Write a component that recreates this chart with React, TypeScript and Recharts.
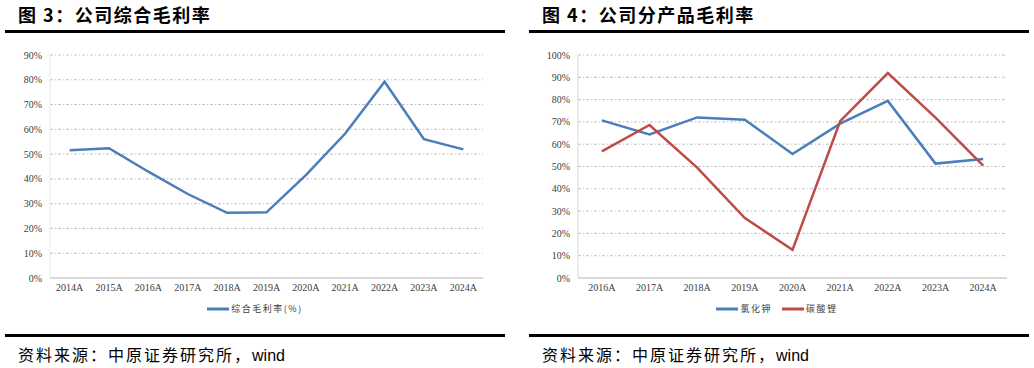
import React from "react";
import { LineChart, Line, XAxis, YAxis, CartesianGrid, Legend } from "recharts";

const leftYears = ["2014A", "2015A", "2016A", "2017A", "2018A", "2019A", "2020A", "2021A", "2022A", "2023A", "2024A"];
const leftMargin = [51.6, 52.4, 42.9, 33.9, 26.3, 26.5, 41.5, 58.3, 79.2, 56.0, 51.9];
const leftTicks = [0, 10, 20, 30, 40, 50, 60, 70, 80, 90];

const rightYears = ["2016A", "2017A", "2018A", "2019A", "2020A", "2021A", "2022A", "2023A", "2024A"];
const kclMargin = [70.7, 64.4, 72.0, 71.0, 55.6, 69.2, 79.4, 51.3, 53.4];
const li2co3Margin = [56.8, 68.6, 49.5, 26.9, 12.6, 70.3, 91.9, 71.9, 50.4];
const rightTicks = [0, 10, 20, 30, 40, 50, 60, 70, 80, 90, 100];

const leftData = leftYears.map((year, i) => ({ year, total: leftMargin[i] }));
const rightData = rightYears.map((year, i) => ({ year, kcl: kclMargin[i], li: li2co3Margin[i] }));

const BLUE = "#4A7EBB";
const RED = "#BE4B48";
const SERIF = "'Times New Roman', 'Liberation Serif', serif";
const CJK = "'Noto Sans CJK SC', sans-serif";

const tickStyle = { fontFamily: SERIF, fontSize: 10, fill: "#404040" };

const renderLegend = (props: any) => {
  const { payload } = props;
  return (
    <div style={{ display: "flex", justifyContent: "center", alignItems: "center", gap: 10 }}>
      {(payload || []).map((p: any) => (
        <div key={p.value} style={{ display: "flex", alignItems: "center" }}>
          <svg width={22} height={6} style={{ display: "block" }}>
            <line x1={0} y1={3} x2={22} y2={3} stroke={p.color} strokeWidth={3} />
          </svg>
          <span style={{ fontFamily: CJK, fontSize: 9, color: "#404040", letterSpacing: 1.5, marginLeft: 2, lineHeight: "12px" }}>
            {p.value}
          </span>
        </div>
      ))}
    </div>
  );
};

const pct = (v: number) => `${v}%`;

const Title = ({ left, text }: { left: number; text: string }) => (
  <div
    style={{
      position: "absolute",
      left,
      top: 3,
      fontFamily: CJK,
      fontWeight: 700,
      fontSize: 18,
      lineHeight: "22px",
      letterSpacing: 1.5,
      color: "#000",
      whiteSpace: "nowrap",
    }}
  >
    {text}
  </div>
);

const Rule = ({ left, top }: { left: number; top: number }) => (
  <div style={{ position: "absolute", left, top, width: 500, height: 3, background: "#000" }} />
);

const Source = ({ left }: { left: number }) => (
  <div style={{ position: "absolute", left, top: 343, whiteSpace: "nowrap", lineHeight: "22px", color: "#000" }}>
    <span style={{ fontFamily: CJK, fontSize: 16, letterSpacing: 2 }}>资料来源：中原证券研究所，</span>
    <span style={{ fontFamily: "'Liberation Sans', Arial, sans-serif", fontSize: 16 }}>wind</span>
  </div>
);

export default function App() {
  return (
    <div style={{ position: "absolute", left: 0, top: 0, width: 1034, height: 368, background: "#fff", overflow: "hidden" }}>
      <Title left={18} text="图 3：公司综合毛利率" />
      <Title left={542} text="图 4：公司分产品毛利率" />
      <Rule left={5} top={30} />
      <Rule left={529} top={30} />
      <Rule left={5} top={334} />
      <Rule left={529} top={334} />
      <Source left={18} />
      <Source left={542} />

      <div style={{ position: "absolute", left: 0, top: 40 }}>
        <LineChart width={510} height={280} data={leftData} margin={{ top: 15, right: 27, left: 0, bottom: 20 }}>
          <CartesianGrid vertical={false} stroke="#BFBFBF" strokeDasharray="3 2 1 2" />
          <XAxis
            dataKey="year"
            scale="band"
            interval={0}
            height={22}
            tickLine={false}
            tickSize={4}
            tickMargin={2}
            axisLine={{ stroke: "#D9D9D9", strokeWidth: 2 }}
            tick={tickStyle}
          />
          <YAxis
            width={50}
            domain={[0, 90]}
            ticks={leftTicks}
            interval={0}
            tickFormatter={pct}
            tickLine={false}
            axisLine={{ stroke: "#E6E6E6" }}
            tick={tickStyle}
          />
          <Legend
            verticalAlign="middle"
            align="center"
            layout="horizontal"
            content={renderLegend}
            wrapperStyle={{ top: 263, left: 0, width: 510 }}
          />
          <Line
            type="linear"
            dataKey="total"
            name="综合毛利率(%)"
            stroke={BLUE}
            strokeWidth={2.5}
            dot={false}
            activeDot={false}
            isAnimationActive={false}
          />
        </LineChart>
      </div>

      <div style={{ position: "absolute", left: 520, top: 40 }}>
        <LineChart width={514} height={280} data={rightData} margin={{ top: 15, right: 27, left: 0, bottom: 20 }}>
          <CartesianGrid vertical={false} stroke="#BFBFBF" strokeDasharray="3 2 1 2" />
          <XAxis
            dataKey="year"
            scale="band"
            interval={0}
            height={22}
            tickLine={false}
            tickSize={4}
            tickMargin={2}
            axisLine={{ stroke: "#D9D9D9", strokeWidth: 2 }}
            tick={tickStyle}
          />
          <YAxis
            width={58}
            domain={[0, 100]}
            ticks={rightTicks}
            interval={0}
            tickFormatter={pct}
            tickLine={false}
            axisLine={{ stroke: "#D9D9D9" }}
            tick={tickStyle}
          />
          <Legend
            verticalAlign="middle"
            align="center"
            layout="horizontal"
            content={renderLegend}
            wrapperStyle={{ top: 263, left: 0, width: 514 }}
          />
          <Line
            type="linear"
            dataKey="kcl"
            name="氯化钾"
            stroke={BLUE}
            strokeWidth={2.5}
            dot={false}
            activeDot={false}
            isAnimationActive={false}
          />
          <Line
            type="linear"
            dataKey="li"
            name="碳酸锂"
            stroke={RED}
            strokeWidth={2.5}
            dot={false}
            activeDot={false}
            isAnimationActive={false}
          />
        </LineChart>
      </div>
    </div>
  );
}
